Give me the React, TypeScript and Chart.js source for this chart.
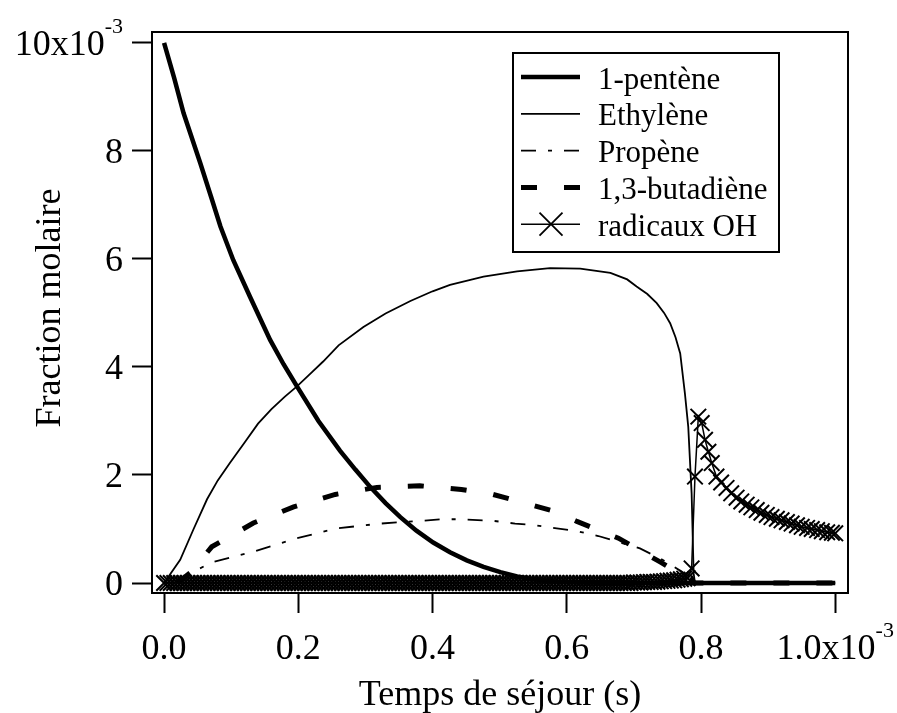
import React, { useEffect, useRef } from "react";
import { Chart, registerables } from "chart.js";

Chart.register(...registerables);

// ---------------- data (x in 10^-3 s, y in 10^-3) ----------------
const penteneX = [0, 0.015, 0.029, 0.054, 0.07, 0.084, 0.103, 0.128, 0.158, 0.178, 0.198, 0.23, 0.262, 0.285, 0.307, 0.33, 0.352, 0.376, 0.401, 0.426, 0.451, 0.476, 0.501, 0.526, 0.55, 0.58, 0.62, 0.7, 0.79, 1.0];
const penteneY = [10.0, 9.35, 8.7, 7.77, 7.15, 6.6, 5.98, 5.3, 4.5, 4.05, 3.64, 3.0, 2.45, 2.1, 1.78, 1.48, 1.22, 0.97, 0.75, 0.57, 0.42, 0.3, 0.2, 0.12, 0.07, 0.03, 0.01, 0, 0, 0];

const ethyleneX = [0, 0.024, 0.044, 0.064, 0.08, 0.098, 0.12, 0.14, 0.16, 0.18, 0.198, 0.22, 0.237, 0.26, 0.297, 0.33, 0.367, 0.4, 0.426, 0.476, 0.526, 0.575, 0.62, 0.665, 0.69, 0.704, 0.72, 0.734, 0.745, 0.754, 0.762, 0.769, 0.776, 0.781, 0.786, 0.789, 0.791, 1.0];
const ethyleneY = [0, 0.43, 1.0, 1.55, 1.9, 2.22, 2.6, 2.95, 3.22, 3.45, 3.64, 3.9, 4.1, 4.4, 4.74, 4.99, 5.22, 5.4, 5.52, 5.67, 5.77, 5.83, 5.82, 5.74, 5.62, 5.49, 5.35, 5.18, 5.0, 4.81, 4.55, 4.25, 3.51, 2.89, 1.66, 0.18, 0, 0];

const propeneX = [0.02, 0.039, 0.071, 0.133, 0.198, 0.257, 0.322, 0.382, 0.414, 0.444, 0.491, 0.523, 0.553, 0.585, 0.615, 0.647, 0.709, 0.74, 0.77, 0.785, 0.79, 1.0];
const propeneY = [0, 0.18, 0.38, 0.58, 0.83, 1.01, 1.1, 1.15, 1.18, 1.18, 1.15, 1.1, 1.07, 1.01, 0.96, 0.87, 0.64, 0.45, 0.22, 0.1, 0, 0];

const butadieneX = [0.02, 0.04, 0.071, 0.133, 0.193, 0.255, 0.317, 0.381, 0.443, 0.49, 0.552, 0.583, 0.615, 0.677, 0.739, 0.765, 0.785, 0.79, 1.0];
const butadieneY = [0, 0.2, 0.67, 1.11, 1.41, 1.64, 1.77, 1.8, 1.73, 1.64, 1.43, 1.32, 1.14, 0.83, 0.39, 0.2, 0.1, 0, 0];

const ohX = [
  0, 0.005, 0.01, 0.015, 0.02, 0.025, 0.03, 0.035, 0.04, 0.045,
  0.05, 0.055, 0.06, 0.065, 0.07, 0.075, 0.08, 0.085, 0.09, 0.095,
  0.1, 0.105, 0.11, 0.115, 0.12, 0.125, 0.13, 0.135, 0.14, 0.145,
  0.15, 0.155, 0.16, 0.165, 0.17, 0.175, 0.18, 0.185, 0.19, 0.195,
  0.2, 0.205, 0.21, 0.215, 0.22, 0.225, 0.23, 0.235, 0.24, 0.245,
  0.25, 0.255, 0.26, 0.265, 0.27, 0.275, 0.28, 0.285, 0.29, 0.295,
  0.3, 0.305, 0.31, 0.315, 0.32, 0.325, 0.33, 0.335, 0.34, 0.345,
  0.35, 0.355, 0.36, 0.365, 0.37, 0.375, 0.38, 0.385, 0.39, 0.395,
  0.4, 0.405, 0.41, 0.415, 0.42, 0.425, 0.43, 0.435, 0.44, 0.445,
  0.45, 0.455, 0.46, 0.465, 0.47, 0.475, 0.48, 0.485, 0.49, 0.495,
  0.5, 0.505, 0.51, 0.515, 0.52, 0.525, 0.53, 0.535, 0.54, 0.545,
  0.55, 0.555, 0.56, 0.565, 0.57, 0.575, 0.58, 0.585, 0.59, 0.595,
  0.6, 0.605, 0.61, 0.615, 0.62, 0.625, 0.63, 0.635, 0.64, 0.645,
  0.65, 0.655, 0.66, 0.665, 0.67, 0.675, 0.68, 0.685, 0.69, 0.695,
  0.7, 0.705, 0.71, 0.715, 0.72, 0.725, 0.73, 0.735, 0.74, 0.745,
  0.75, 0.755, 0.76, 0.765, 0.77, 0.775, 0.78,
  0.786, 0.791, 0.796, 0.801, 0.806, 0.811, 0.816, 0.823, 0.83, 0.838,
  0.845, 0.853, 0.86, 0.868, 0.875, 0.883, 0.89, 0.898, 0.905, 0.913,
  0.92, 0.928, 0.935, 0.943, 0.95, 0.958, 0.965, 0.973, 0.98, 0.988,
  0.995, 1.0,
];
const ohY = [
  0, 0, 0, 0, 0, 0, 0, 0, 0, 0,
  0, 0, 0, 0, 0, 0, 0, 0, 0, 0,
  0, 0, 0, 0, 0, 0, 0, 0, 0, 0,
  0, 0, 0, 0, 0, 0, 0, 0, 0, 0,
  0, 0, 0, 0, 0, 0, 0, 0, 0, 0,
  0, 0, 0, 0, 0, 0, 0, 0, 0, 0,
  0, 0, 0, 0, 0, 0, 0, 0, 0, 0,
  0, 0, 0, 0, 0, 0, 0, 0, 0, 0,
  0, 0, 0, 0, 0, 0, 0, 0, 0, 0,
  0, 0, 0, 0, 0, 0, 0, 0, 0, 0,
  0, 0, 0, 0, 0, 0, 0, 0, 0, 0,
  0, 0, 0, 0, 0, 0, 0, 0, 0, 0,
  0, 0, 0, 0, 0, 0, 0, 0, 0, 0,
  0, 0, 0, 0, 0, 0, 0, 0, 0, 0,
  0.01, 0.01, 0.01, 0.015, 0.02, 0.02, 0.02, 0.025, 0.03, 0.035,
  0.04, 0.045, 0.05, 0.06, 0.07, 0.08, 0.09,
  0.27, 1.97, 3.08, 2.96, 2.65, 2.43, 2.22, 1.97, 1.86, 1.76,
  1.66, 1.58, 1.51, 1.45, 1.4, 1.35, 1.3, 1.26, 1.22, 1.19,
  1.16, 1.13, 1.1, 1.07, 1.04, 1.02, 1.0, 0.98, 0.96, 0.94,
  0.93, 0.92,
];

const seriesLabels = ["1-pentène", "Ethylène", "Propène", "1,3-butadiène", "radicaux OH"];
const yTitle = "Fraction molaire";
const xTitle = "Temps de séjour (s)";
const exponentText = "-3";

const FONT = '"Liberation Serif", "Times New Roman", Times, serif';

export default function App() {
  const ref = useRef<HTMLCanvasElement>(null);

  useEffect(() => {
    const canvas = ref.current;
    if (!canvas) return;
    const pts = (xs: number[], ys: number[]) => xs.map((x, i) => ({ x, y: ys[i] }));

    const decorPlugin = {
      id: "decor",
      afterDraw(chart: any) {
        const ctx = chart.ctx as CanvasRenderingContext2D;
        const ca = chart.chartArea;
        ctx.save();
        ctx.strokeStyle = "#000";
        ctx.fillStyle = "#000";
        ctx.lineWidth = 2;
        ctx.setLineDash([]);
        ctx.strokeRect(ca.left, ca.top, ca.right - ca.left, ca.bottom - ca.top);

        const mainFont = `36px ${FONT}`;
        const supFont = `22px ${FONT}`;
        ctx.textBaseline = "alphabetic";
        ctx.textAlign = "left";

        // y tick labels
        const ys = chart.scales.y;
        ys.ticks.forEach((t: any, i: number) => {
          const py = ys.getPixelForValue(t.value);
          const isTop = i === ys.ticks.length - 1;
          const main = isTop ? `${Math.round(t.value)}x10` : `${Math.round(t.value)}`;
          ctx.font = mainFont;
          const mw = ctx.measureText(main).width;
          ctx.font = supFont;
          const sw = isTop ? ctx.measureText(exponentText).width : 0;
          const right = ca.left - 29;
          const x0 = right - mw - sw;
          ctx.font = mainFont;
          ctx.fillText(main, x0, py + 12);
          if (isTop) {
            ctx.font = supFont;
            ctx.fillText(exponentText, x0 + mw, py - 10);
          }
        });

        // x tick labels
        const xs = chart.scales.x;
        xs.ticks.forEach((t: any, i: number) => {
          const px = xs.getPixelForValue(t.value);
          const isLast = i === xs.ticks.length - 1;
          const main = isLast ? `${t.value.toFixed(1)}x10` : `${t.value.toFixed(1)}`;
          ctx.font = mainFont;
          const mw = ctx.measureText(main).width;
          ctx.font = supFont;
          const sw = isLast ? ctx.measureText(exponentText).width : 0;
          const x0 = px - (mw + sw) / 2;
          ctx.font = mainFont;
          ctx.fillText(main, x0, 659);
          if (isLast) {
            ctx.font = supFont;
            ctx.fillText(exponentText, x0 + mw, 637);
          }
        });

        // axis titles
        ctx.font = mainFont;
        ctx.textAlign = "center";
        ctx.fillText(xTitle, (ca.left + ca.right) / 2, 705);
        ctx.save();
        ctx.translate(60, 308);
        ctx.rotate(-Math.PI / 2);
        ctx.fillText(yTitle, 0, 0);
        ctx.restore();

        // legend
        const bx = 513, by = 53, bw = 266, bh = 199;
        ctx.fillStyle = "#fff";
        ctx.fillRect(bx, by, bw, bh);
        ctx.strokeStyle = "#000";
        ctx.lineWidth = 2;
        ctx.strokeRect(bx, by, bw, bh);
        ctx.fillStyle = "#000";
        ctx.font = `31px ${FONT}`;
        ctx.textAlign = "left";
        chart.data.datasets.forEach((ds: any, i: number) => {
          const base = 88.5 + i * 36.8;
          const ly = base - 11.5;
          ctx.save();
          ctx.strokeStyle = "#000";
          ctx.lineWidth = ds.borderWidth;
          ctx.setLineDash(ds.borderDash || []);
          ctx.lineCap = "butt";
          ctx.beginPath();
          ctx.moveTo(521, ly);
          ctx.lineTo(580, ly);
          ctx.stroke();
          if (ds.pointRadius > 0) {
            ctx.setLineDash([]);
            ctx.lineWidth = 1.8;
            const h = 11.5;
            ctx.beginPath();
            ctx.moveTo(551 - h, ly - h);
            ctx.lineTo(551 + h, ly + h);
            ctx.moveTo(551 - h, ly + h);
            ctx.lineTo(551 + h, ly - h);
            ctx.stroke();
          }
          ctx.restore();
          ctx.fillText(ds.label, 598, base);
        });
        ctx.restore();
      },
    };

    const tickGrid = {
      drawOnChartArea: false,
      drawTicks: true,
      tickLength: 20,
      tickColor: "#000",
      tickWidth: 2,
    };

    const chart = new Chart(canvas, {
      type: "line",
      data: {
        datasets: [
          {
            label: seriesLabels[0],
            data: pts(penteneX, penteneY),
            borderColor: "#000",
            borderWidth: 4.5,
            pointRadius: 0,
            tension: 0,
          },
          {
            label: seriesLabels[1],
            data: pts(ethyleneX, ethyleneY),
            borderColor: "#000",
            borderWidth: 1.8,
            pointRadius: 0,
            tension: 0,
          },
          {
            label: seriesLabels[2],
            data: pts(propeneX, propeneY),
            borderColor: "#000",
            borderWidth: 1.8,
            borderDash: [15, 12, 4, 12],
            pointRadius: 0,
            tension: 0,
          },
          {
            label: seriesLabels[3],
            data: pts(butadieneX, butadieneY),
            borderColor: "#000",
            borderWidth: 5,
            borderDash: [16, 27],
            pointRadius: 0,
            tension: 0,
          },
          {
            label: seriesLabels[4],
            data: pts(ohX, ohY),
            borderColor: "#000",
            borderWidth: 1.5,
            pointStyle: "crossRot",
            pointRadius: 11,
            pointBorderWidth: 2,
            pointBorderColor: "#000",
            pointBackgroundColor: "rgba(0,0,0,0)",
            tension: 0,
          },
        ] as any,
      },
      options: {
        responsive: false,
        maintainAspectRatio: false,
        animation: false,
        events: [],
        layout: { padding: { top: 32, right: 49, left: 0, bottom: 0 } },
        plugins: {
          legend: { display: false },
          tooltip: { enabled: false },
          title: { display: false },
        },
        scales: {
          x: {
            type: "linear",
            min: -0.018,
            max: 1.019,
            ticks: { stepSize: 0.2, includeBounds: false, display: false },
            grid: tickGrid,
            border: { display: false },
            afterFit: (s: any) => {
              s.height = 120;
            },
          },
          y: {
            type: "linear",
            min: -0.185,
            max: 10.2,
            ticks: { stepSize: 2, includeBounds: false, display: false },
            grid: tickGrid,
            border: { display: false },
            afterFit: (s: any) => {
              s.width = 152;
            },
          },
        },
      } as any,
      plugins: [decorPlugin],
    });

    return () => chart.destroy();
  }, []);

  return (
    <div style={{ position: "fixed", left: 0, top: 0, width: 897, height: 713, background: "#fff" }}>
      <canvas ref={ref} width={897} height={713} style={{ display: "block" }} />
    </div>
  );
}
